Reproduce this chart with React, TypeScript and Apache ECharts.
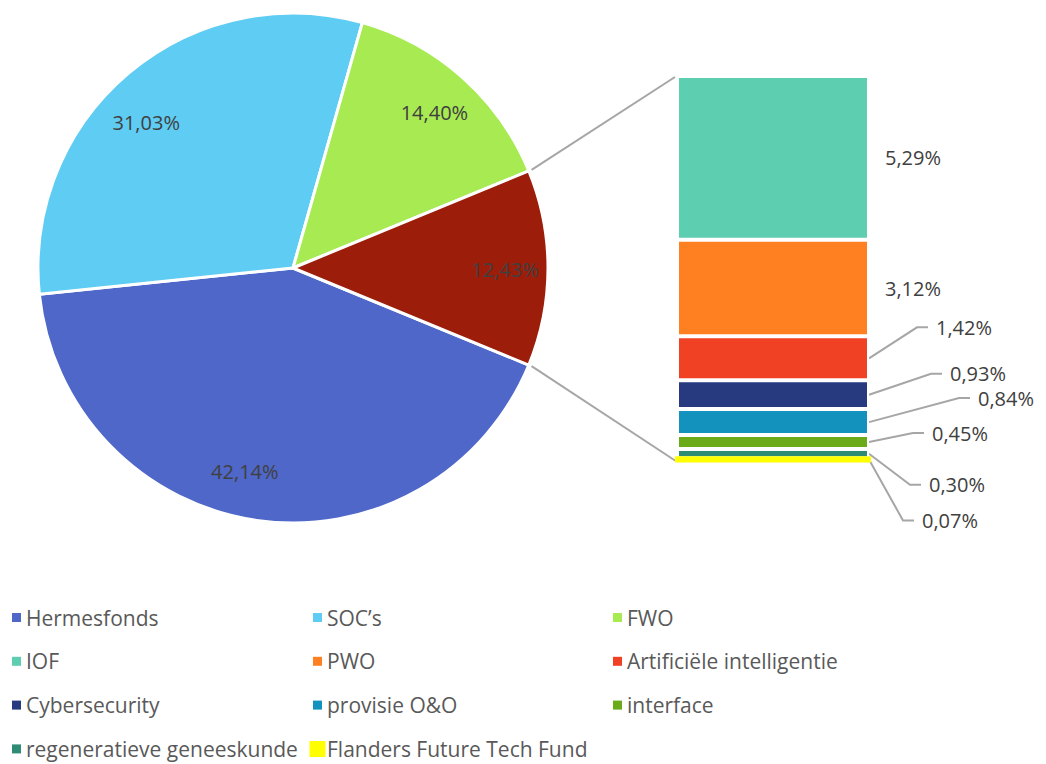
import React, { useEffect, useRef } from 'react';
import * as echarts from 'echarts';

// ---- data ----
const pieNames = ['Hermesfonds', 'SOC’s', 'FWO', 'Overige'];
const pieValues = [42.14, 31.03, 14.4, 12.43];
const pieColors = ['#4E67C8', '#5ECCF3', '#A7EA52', '#9C1D0A'];

const barNames = [
  'IOF',
  'PWO',
  'Artificiële intelligentie',
  'Cybersecurity',
  'provisie O&O',
  'interface',
  'regeneratieve geneeskunde',
  'Flanders Future Tech Fund',
];
const barValues = [5.29, 3.12, 1.42, 0.93, 0.84, 0.45, 0.3, 0.07];
const barColors = ['#5DCEAF', '#FF8021', '#F14124', '#27397F', '#1492BE', '#6BAA18', '#2E8B74', '#FFFF00'];

const legendColumns = [
  ['Hermesfonds', 'IOF', 'Cybersecurity', 'regeneratieve geneeskunde'],
  ['SOC’s', 'PWO', 'provisie O&O', 'Flanders Future Tech Fund'],
  ['FWO', 'Artificiële intelligentie', 'interface'],
];

// ---- layout ----
const FONT = '"Open Sans", "Noto Sans", sans-serif';
const TXT = '#404040';
const LEGEND_TXT = '#595959';
const LINE = '#A6A6A6';
const PIE_C = [293, 268];
const PIE_R = 255;
const PIE_LABEL_R0 = 161;
const GRID = { left: 677, top: 76, width: 192, height: 384.5 };
// label shifts for pie labels (px, applied by labelLayout)
const pieLabelShift = [
  [-9, -2.5],
  [-5.5, 8],
  [0.5, 1.25],
  [0.5, 0.5],
];
// bar label leader offsets: elbow x offset from bar right edge, dy from segment middle
const barLabelLayout: { elbow: number | null; dy: number }[] = [
  { elbow: null, dy: 0 },
  { elbow: null, dy: 0 },
  { elbow: 48, dy: -31 },
  { elbow: 62, dy: -21 },
  { elbow: 90, dy: -24 },
  { elbow: 44, dy: -9 },
  { elbow: 41, dy: 31 },
  { elbow: 34, dy: 61 },
];

const fmt = (v: number) => v.toFixed(2).replace('.', ',') + '%';

export default function App() {
  const ref = useRef<HTMLDivElement>(null);

  useEffect(() => {
    const chart = echarts.init(ref.current!, null, { renderer: 'svg' });
    const pieTotal = pieValues.reduce((a, b) => a + b, 0);
    const otherAngle = (pieValues[pieValues.length - 1] / pieTotal) * 360;
    const startAngle = -otherAngle / 2;
    const barTotal = barValues.reduce((a, b) => a + b, 0);
    const last = barNames.length - 1;
    const stackOrder = barNames.map((_, i) => i).reverse();

    const labelText = { fontSize: 20, fontFamily: FONT, color: TXT };

    const barSeries = stackOrder.map((i) => ({
      type: 'bar',
      name: barNames[i],
      stack: 'other',
      barWidth: '100%',
      z: 2,
      silent: true,
      data: [barValues[i]],
      itemStyle: {
        color: barColors[i],
        borderColor: i === last ? 'none' : '#ffffff',
        borderWidth: i === last ? 0 : 2,
      },
      label: {
        show: true,
        position: 'right',
        formatter: () => fmt(barValues[i]),
        ...labelText,
      },
      labelLayout: (p: any) => {
        const right = p.rect.x + p.rect.width - 1;
        const mid = p.rect.y + p.rect.height / 2;
        const o = barLabelLayout[i];
        return {
          x: right + (o.elbow == null ? 17 : o.elbow + 20),
          y: mid + o.dy,
          align: 'left',
          verticalAlign: 'middle',
        };
      },
    }));

    // slightly enlarged highlight of the smallest segment (as in the reference)
    const highlightSeries = {
      type: 'custom',
      silent: true,
      z: 4,
      data: [[0, barValues[last]]],
      encode: { x: 0, y: 1 },
      renderItem: (_params: any, api: any) => {
        const base = api.coord([0, 0]);
        const top = api.coord([0, api.value(1)]);
        const band = api.size([1, 0])[0];
        return {
          type: 'rect',
          shape: {
            x: base[0] - band / 2 - 2,
            y: top[1] - 2,
            width: band + 4,
            height: base[1] - top[1] + 4,
          },
          style: { fill: barColors[last] },
        };
      },
    };

    const option: any = {
      animation: false,
      backgroundColor: '#ffffff',
      grid: { ...GRID, containLabel: false },
      xAxis: { type: 'category', data: ['Overige'], show: false },
      yAxis: { type: 'value', min: 0, max: barTotal, show: false },
      legend: legendColumns.map((col, ci) => ({
        orient: 'vertical',
        left: [12, 309.5, 613][ci],
        top: 606.5,
        padding: 0,
        itemWidth: 9,
        itemHeight: 9,
        itemGap: 21.8,
        icon: 'rect',
        selectedMode: false,
        itemStyle: { borderWidth: 0 },
        data: col.map((n) =>
          n === 'Flanders Future Tech Fund'
            ? { name: n, itemStyle: { borderColor: '#FFFF00', borderWidth: 7 } }
            : n
        ),
        textStyle: { fontSize: 21, lineHeight: 22, color: LEGEND_TXT, fontFamily: FONT },
      })),
      series: [
        {
          type: 'pie',
          center: PIE_C,
          radius: PIE_R,
          startAngle,
          clockwise: true,
          silent: true,
          avoidLabelOverlap: false,
          itemStyle: { borderColor: '#ffffff', borderWidth: 3 },
          label: { show: false },
          labelLine: { show: false },
          data: pieNames.map((n, i) => ({ name: n, value: pieValues[i], itemStyle: { color: pieColors[i] } })),
        },
        {
          type: 'pie',
          center: PIE_C,
          radius: [PIE_LABEL_R0, PIE_R],
          startAngle,
          clockwise: true,
          silent: true,
          legendHoverLink: false,
          avoidLabelOverlap: false,
          itemStyle: { color: 'rgba(0,0,0,0)', borderWidth: 0 },
          label: {
            show: true,
            position: 'inside',
            formatter: (p: any) => fmt(p.value),
            ...labelText,
          },
          labelLine: { show: false },
          labelLayout: (p: any) => ({ dx: pieLabelShift[p.dataIndex][0], dy: pieLabelShift[p.dataIndex][1] }),
          data: pieNames.map((n, i) => ({ name: n, value: pieValues[i] })),
        },
        ...barSeries,
        highlightSeries,
      ],
    };
    chart.setOption(option);

    // leader lines and connectors computed through the chart's own scales
    const toPx = (v: number) => chart.convertToPixel({ gridIndex: 0 }, [0, v]) as number[];
    const right = GRID.left + GRID.width;
    const graphics: any[] = [];
    let cum = 0;
    stackOrder.forEach((i) => {
      const mid = toPx(cum + barValues[i] / 2)[1];
      cum += barValues[i];
      const o = barLabelLayout[i];
      if (o.elbow != null) {
        graphics.push({
          type: 'polyline',
          silent: true,
          shape: {
            points: [
              [right, mid],
              [right + o.elbow, mid + o.dy],
              [right + o.elbow + 11, mid + o.dy],
            ],
          },
          style: { stroke: LINE, lineWidth: 2, fill: null },
        });
      }
    });
    const rad = Math.PI / 180;
    const rr = PIE_R + 3;
    const aTop = (startAngle + otherAngle) * rad;
    const aBot = startAngle * rad;
    const topPx = toPx(barTotal)[1];
    const botPx = toPx(0)[1];
    graphics.push({
      type: 'line',
      silent: true,
      shape: {
        x1: PIE_C[0] + rr * Math.cos(aTop),
        y1: PIE_C[1] - rr * Math.sin(aTop),
        x2: GRID.left - 2,
        y2: topPx + 1,
      },
      style: { stroke: LINE, lineWidth: 2 },
    });
    graphics.push({
      type: 'line',
      silent: true,
      shape: {
        x1: PIE_C[0] + rr * Math.cos(aBot),
        y1: PIE_C[1] - rr * Math.sin(aBot),
        x2: GRID.left - 2,
        y2: botPx,
      },
      style: { stroke: LINE, lineWidth: 2 },
    });
    chart.setOption({ graphic: graphics });

    return () => chart.dispose();
  }, []);

  return (
    <div
      ref={ref}
      style={{ position: 'fixed', left: 0, top: 0, width: 1046, height: 764, background: '#fff' }}
    />
  );
}
